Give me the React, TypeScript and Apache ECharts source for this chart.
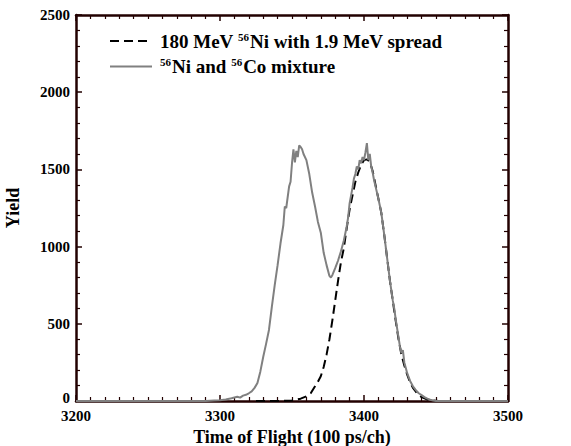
import React, { useEffect, useRef } from "react";
import * as echarts from "echarts";

const xTicks = [3200, 3300, 3400, 3500];
const yTicks = [0, 500, 1000, 1500, 2000, 2500];

const dashName = "180 MeV 56Ni with 1.9 MeV spread";
const grayName = "56Ni and 56Co mixture";

const dashX = [3325, 3340, 3350, 3356, 3360, 3363, 3366, 3368, 3370, 3372, 3374, 3376, 3378, 3380, 3382, 3384, 3386, 3388, 3390, 3392, 3394, 3396, 3398, 3400, 3402, 3404, 3406, 3408, 3410, 3412, 3414, 3416, 3418, 3420, 3422, 3424, 3426, 3428, 3430, 3432, 3434, 3436, 3438, 3440, 3444, 3448, 3452];
const dashY = [0, 0, 3, 15, 30, 50, 95, 125, 160, 220, 300, 400, 520, 650, 780, 900, 990, 1120, 1240, 1330, 1420, 1480, 1530, 1560, 1565, 1550, 1490, 1400, 1310, 1220, 1080, 930, 780, 650, 520, 400, 300, 230, 170, 120, 85, 60, 40, 25, 10, 3, 0];

const grayX = [3200, 3290, 3296, 3300, 3304, 3308, 3312, 3314, 3316, 3318, 3320, 3322, 3324, 3326, 3328, 3330, 3332, 3334, 3336, 3338, 3340, 3342, 3344, 3345, 3346, 3348, 3349, 3350, 3351, 3352, 3353, 3354, 3355, 3356, 3357, 3358, 3360, 3362, 3364, 3366, 3368, 3370, 3372, 3374, 3376, 3377, 3378, 3380, 3382, 3384, 3386, 3388, 3389, 3390, 3392, 3393, 3394, 3395, 3396, 3397, 3398, 3399, 3400, 3401, 3402, 3403, 3404, 3405, 3406, 3407, 3408, 3410, 3412, 3414, 3416, 3418, 3420, 3421, 3422, 3424, 3425, 3426, 3427, 3428, 3430, 3432, 3434, 3436, 3438, 3440, 3442, 3444, 3446, 3448, 3450, 3500];
const grayY = [0, 0, 3, 5, 10, 18, 28, 22, 35, 40, 50, 62, 85, 117, 190, 285, 370, 460, 610, 750, 880, 1020, 1140, 1260, 1250, 1390, 1420, 1540, 1630, 1545, 1620, 1580, 1655, 1645, 1630, 1600, 1560, 1470, 1350, 1260, 1160, 1090, 960, 880, 810, 800, 815, 860, 910, 970, 1040, 1130, 1190, 1280, 1380, 1440, 1470, 1520, 1500, 1560, 1540, 1580, 1560, 1610, 1670, 1560, 1600, 1520, 1480, 1430, 1390, 1310, 1220, 1080, 930, 780, 650, 600, 530, 410, 350, 310, 330, 250, 180, 130, 95, 70, 50, 38, 25, 15, 8, 3, 0, 0];

const FONT = "'Liberation Serif', 'Times New Roman', serif";
const INK = "#220000";

const GL = 76, GR = 63, GT = 15, GB = 45, W = 571, H = 446;

export default function App() {
  const ref = useRef<HTMLDivElement>(null);
  useEffect(() => {
    if (!ref.current) return;
    const chart = echarts.init(ref.current, undefined, { renderer: "svg" });
    const labelStyle = { fontFamily: FONT, fontWeight: "bold" as const, fontSize: 15, color: "#000" };
    const mkX = () => ({
      type: "value" as const,
      min: xTicks[0],
      max: xTicks[xTicks.length - 1],
      interval: 100,
      axisLine: { show: true, onZero: false, lineStyle: { color: INK, width: 2.5, opacity: 1 } },
      axisTick: { show: true, inside: true, length: 6, lineStyle: { color: INK, width: 1.5, opacity: 1 } },
      minorTick: { show: true, splitNumber: 10, length: 4, lineStyle: { color: INK, width: 1.2, opacity: 1 } },
      splitLine: { show: false },
      minorSplitLine: { show: false },
    });
    const mkY = () => ({
      type: "value" as const,
      min: yTicks[0],
      max: yTicks[yTicks.length - 1],
      interval: 500,
      axisLine: { show: true, onZero: false, lineStyle: { color: INK, width: 2.5, opacity: 1 } },
      axisTick: { show: true, inside: true, length: 6, lineStyle: { color: INK, width: 1.5, opacity: 1 } },
      minorTick: { show: true, splitNumber: 5, length: 4, lineStyle: { color: INK, width: 1.2, opacity: 1 } },
      splitLine: { show: false },
      minorSplitLine: { show: false },
    });
    chart.setOption({
      animation: false,
      backgroundColor: "#fff",
      grid: { left: GL, right: GR, top: GT, bottom: GB, containLabel: false, outerBoundsMode: "none" },
      legend: {
        show: true,
        orient: "vertical",
        left: 104,
        top: 26,
        itemWidth: 42,
        itemHeight: 14,
        itemGap: 6,
        data: [dashName, grayName],
        itemStyle: { opacity: 0 },
        formatter: (name: string) =>
          name === dashName
            ? "{g|}{t|180 MeV }{s|56}{t|Ni with 1.9 MeV spread}"
            : "{g|}{s|56}{t|Ni and }{s|56}{t|Co mixture}",
        textStyle: {
          fontFamily: FONT,
          fontWeight: "bold",
          fontSize: 19,
          color: "#000",
          rich: {
            g: { width: 3 },
            t: { fontFamily: FONT, fontWeight: "bold", fontSize: 19, color: "#000" },
            s: { fontFamily: FONT, fontWeight: "bold", fontSize: 11, color: "#000", verticalAlign: "top", padding: [0, 1, 9, 0] },
          },
        },
      },
      xAxis: [
        {
          ...mkX(),
          position: "bottom",
          name: "Time of Flight (100 ps/ch)",
          nameLocation: "middle",
          nameGap: 26,
          nameTextStyle: { ...labelStyle, fontSize: 18 },
          axisLabel: { ...labelStyle, margin: 7, formatter: (v: number) => String(v) },
        },
        { ...mkX(), position: "top", axisLabel: { show: false } },
      ],
      yAxis: [
        {
          ...mkY(),
          position: "left",
          name: "Yield",
          nameLocation: "middle",
          nameGap: 54,
          nameTextStyle: { ...labelStyle, fontSize: 18 },
          axisLabel: {
            ...labelStyle,
            margin: 6,
            formatter: (v: number) => (v === 0 ? "{z|0}" : String(v)),
            rich: { z: { ...labelStyle, padding: [0, 0, 7, 0] } },
          },
        },
        { ...mkY(), position: "right", axisLabel: { show: false } },
      ],
      series: [
        {
          name: dashName,
          type: "line",
          showSymbol: false,
          symbol: "none",
          data: dashX.map((x, i) => [x, dashY[i]]),
          lineStyle: { color: "#000", width: 2, type: [9, 5] },
          itemStyle: { color: "#000" },
          z: 2,
        },
        {
          name: grayName,
          type: "line",
          showSymbol: false,
          symbol: "none",
          data: grayX.map((x, i) => [x, grayY[i]]),
          lineStyle: { color: "#808080", width: 2 },
          itemStyle: { color: "#808080" },
          z: 3,
        },
      ],
    });
    return () => chart.dispose();
  }, []);
  return <div ref={ref} style={{ position: "fixed", left: 0, top: 0, width: W, height: H }} />;
}
